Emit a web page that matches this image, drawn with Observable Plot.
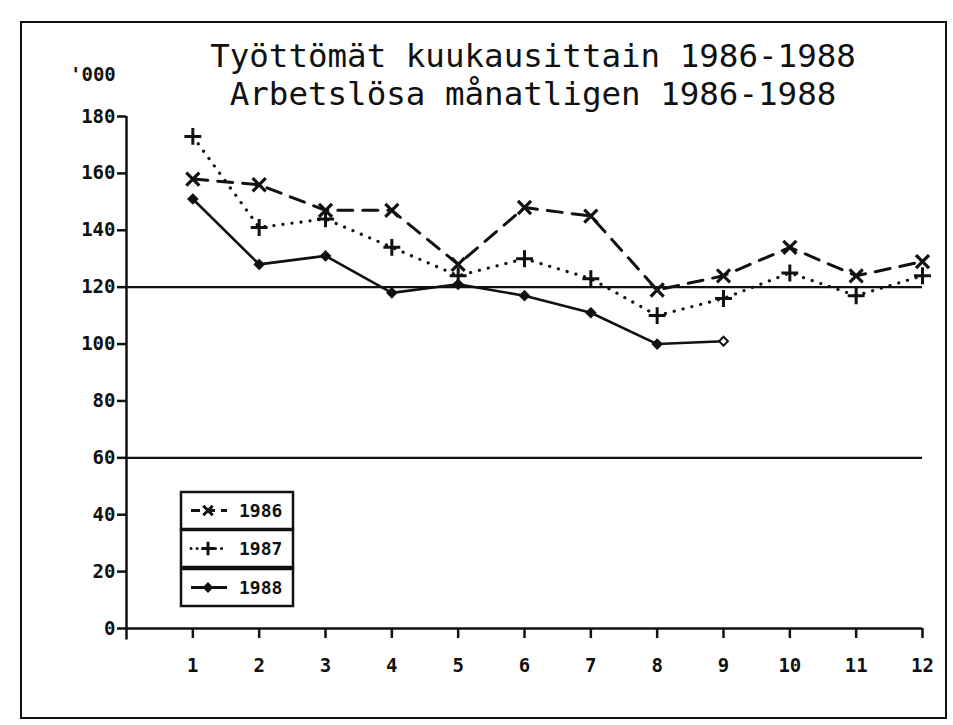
<!DOCTYPE html>
<html>
<head>
<meta charset="utf-8">
<script src="https://cdn.jsdelivr.net/npm/d3@7"></script>
<script src="https://cdn.jsdelivr.net/npm/@observablehq/plot@0.6"></script>
<style>
  html, body { margin: 0; padding: 0; background: #fff; }
  #wrap { position: relative; width: 953px; height: 725px; overflow: hidden; background: #fff; }
  #border { position: absolute; left: 20px; top: 21px; width: 923px; height: 694px; border: 2px solid #111; }
  .title { position: absolute; left: 0; width: 1066px; text-align: center; font-family: "DejaVu Sans Mono", monospace; font-size: 32.5px; line-height: 36px; height: 36px; color: #111; white-space: pre; }
  #unit { position: absolute; left: 70px; top: 64px; font-family: "DejaVu Sans Mono", monospace; font-weight: bold; font-size: 19px; line-height: 20px; color: #111; }
  #chart { position: absolute; left: 0; top: 0; }
  #legend { position: absolute; left: 0; top: 0; }
</style>
</head>
<body>
<div id="wrap">
  <div id="border"></div>
  <div id="chart"></div>
  <div class="title" style="top:38px">Työttömät kuukausittain 1986-1988</div>
  <div class="title" style="top:76px">Arbetslösa månatligen 1986-1988</div>
  <div id="unit">'000</div>
  <div id="legend"></div>
</div>
<script>
const months = [1, 2, 3, 4, 5, 6, 7, 8, 9, 10, 11, 12];
const yTicks = [0, 20, 40, 60, 80, 100, 120, 140, 160, 180];
const refLines = [60, 120];
const years = ["1986", "1987", "1988"];
const v1986 = [158, 156, 147, 147, 128, 148, 145, 119, 124, 134, 124, 129];
const v1987 = [173, 141, 144, 134, 124, 130, 123, 110, 116, 125, 117, 124];
const v1988 = [151, 128, 131, 118, 121, 117, 111, 100, 101];

const toRows = (vals, year) => vals.map((v, i) => ({month: months[i], value: v, year}));
const d86 = toRows(v1986, years[0]);
const d87 = toRows(v1987, years[1]);
const d88 = toRows(v1988, years[2]);
const lastIdx88 = d88.length - 1;

const ink = "#111";
const chart = Plot.plot({
  width: 953,
  height: 725,
  marginLeft: 126,
  marginRight: 31,
  marginTop: 116,
  marginBottom: 97,
  style: {fontFamily: "DejaVu Sans Mono, monospace", fontWeight: "bold", fontSize: "19px", color: ink, background: "transparent", overflow: "visible"},
  x: {domain: [0, 12]},
  y: {domain: [0, 180]},
  marks: [
    Plot.ruleY(refLines, {stroke: ink, strokeWidth: 2.3}),
    Plot.ruleY([0], {stroke: ink, strokeWidth: 2.5}),
    Plot.ruleX([0], {y1: -4, y2: 180, stroke: ink, strokeWidth: 2.5}),
    Plot.axisY({ticks: yTicks, tickSize: 9, tickPadding: 2, tickFormat: d => String(d), strokeWidth: 2.5, stroke: ink, fill: ink, label: null}),
    Plot.axisX({ticks: months, tickSize: 10, tickPadding: 20, tickFormat: d => String(d), strokeWidth: 2.5, stroke: ink, fill: ink, label: null}),
    Plot.line(d86, {x: "month", y: "value", stroke: ink, strokeWidth: 3, strokeDasharray: "15,10"}),
    Plot.line(d87, {x: "month", y: "value", stroke: ink, strokeWidth: 3.2, strokeDasharray: "0.1,9", strokeLinecap: "round"}),
    Plot.line(d88, {x: "month", y: "value", stroke: ink, strokeWidth: 2.6}),
    Plot.dot(d86, {x: "month", y: "value", symbol: "times", r: 6, stroke: ink, strokeWidth: 3.2}),
    Plot.dot(d87, {x: "month", y: "value", symbol: "plus", r: 5.5, stroke: ink, strokeWidth: 3}),
    Plot.dot(d88.filter((d, i) => i < lastIdx88), {x: "month", y: "value", symbol: "diamond2", r: 4, fill: ink, stroke: ink, strokeWidth: 2}),
    Plot.dot(d88.filter((d, i) => i === lastIdx88), {x: "month", y: "value", symbol: "diamond2", r: 4, fill: "white", stroke: ink, strokeWidth: 2})
  ]
});
document.getElementById("chart").appendChild(chart);

// Legend (boxed, three rows)
const lg = d3.select("#legend").append("svg").attr("width", 953).attr("height", 725)
  .style("font-family", "DejaVu Sans Mono, monospace").style("font-weight", "bold").style("font-size", "18px");
const rowTop = [492, 530, 569];
const rowH = 37;
const styles = [
  {dash: "9,6", sym: "times"},
  {dash: "0.1,6", sym: "plus"},
  {dash: null, sym: "diamond"}
];
years.forEach((yr, i) => {
  const g = lg.append("g").attr("transform", `translate(181,${rowTop[i]})`);
  g.append("rect").attr("x", 0).attr("y", 0).attr("width", 112).attr("height", rowH)
    .attr("fill", "white").attr("stroke", ink).attr("stroke-width", 2.5);
  const cy = rowH / 2;
  const ln = g.append("line").attr("x1", 10).attr("x2", 46).attr("y1", cy).attr("y2", cy)
    .attr("stroke", ink).attr("stroke-width", 3).attr("stroke-linecap", i === 1 ? "round" : "butt");
  if (styles[i].dash) ln.attr("stroke-dasharray", styles[i].dash);
  const symType = {times: d3.symbolTimes, plus: d3.symbolPlus, diamond: d3.symbolDiamond2}[styles[i].sym];
  const path = d3.symbol(symType, i === 2 ? 40 : 60)();
  g.append("path").attr("d", path).attr("transform", `translate(27,${cy})`)
    .attr("fill", i === 2 ? ink : "none").attr("stroke", ink).attr("stroke-width", i === 2 ? 2 : 3);
  g.append("text").attr("x", 58).attr("y", cy).attr("dy", "0.36em").attr("fill", ink).text(yr);
});
</script>
</body>
</html>
